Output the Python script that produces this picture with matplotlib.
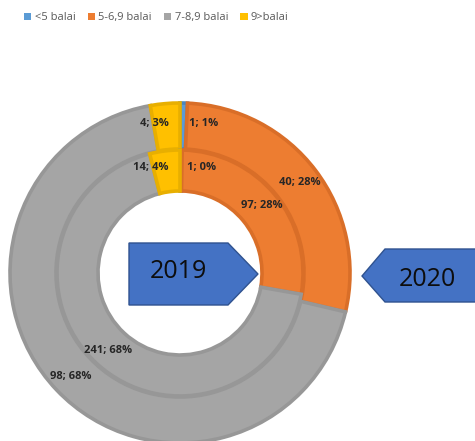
import numpy as np
import matplotlib.pyplot as plt
from matplotlib.patches import Polygon, Patch

plt.rcParams['font.family'] = ['Open Sans', 'DejaVu Sans']

# balai groups and counts per year
categories = ["<5 balai", "5-6,9 balai", "7-8,9 balai", "9>balai"]
counts_2020 = [1, 40, 98, 4]     # outer ring
counts_2019 = [1, 97, 241, 14]   # inner ring
pct_2020 = [1, 28, 68, 3]
pct_2019 = [0, 28, 68, 4]

colors = ["#5B9BD5", "#ED7D31", "#A5A5A5", "#FFC000"]
edges = ["#4A86BE", "#D96E28", "#979797", "#E8AF00"]

W, H = 475, 441
fig = plt.figure(figsize=(W / 100, H / 100), dpi=100)
ax = fig.add_axes([0, 0, 1, 1])

cx, cy = 180, 168
r_out, w_out = 170, 46
r_in, w_in = 123, 41


def ring(vals, radius, width):
    wedges, _ = ax.pie(vals, radius=radius, center=(cx, cy), startangle=90,
                       counterclock=False, colors=colors,
                       wedgeprops=dict(width=width, linewidth=2.6))
    for w, ec in zip(wedges, edges):
        w.set_edgecolor(ec)
    return wedges


def ring_labels(vals, pcts, r_lab):
    total = sum(vals)
    start = 0
    for v, p in zip(vals, pcts):
        frac = (start + v / 2) / total
        theta = np.deg2rad(90 - 360 * frac)
        x = cx + r_lab * np.cos(theta)
        y = cy + r_lab * np.sin(theta)
        ha = 'center'
        if v / total < 0.05:
            if np.cos(theta) > 0:
                ha, x = 'left', x + 6
            else:
                ha, x = 'right', x + 2
        ax.text(x, y, f"{v}; {p}%", ha=ha, va='center', fontsize=8,
                fontweight='bold', color="#262626", zorder=5)
        start += v


ring(counts_2020, r_out, w_out)
ring(counts_2019, r_in, w_in)
ring_labels(counts_2020, pct_2020, 150)
ring_labels(counts_2019, pct_2019, 106)

# year arrows
arrow_2019 = [(129, 198), (228, 198), (258, 167), (228, 136), (129, 136)]
arrow_2020 = [(362, 165), (385, 192), (480, 192), (480, 139), (385, 139)]
for pts in (arrow_2019, arrow_2020):
    ax.add_patch(Polygon(pts, closed=True, facecolor="#4472C4",
                         edgecolor="#2F528F", linewidth=1, zorder=6))
ax.text(178, 169, "2019", ha='center', va='center', fontsize=18,
        color="#0D0D0D", zorder=7)
ax.text(427, 161, "2020", ha='center', va='center', fontsize=18,
        color="#0D0D0D", zorder=7)

handles = [Patch(facecolor=c, edgecolor='none') for c in colors]
fig.legend(handles, categories, loc='upper left', bbox_to_anchor=(0.03, 0.995),
           ncol=4, frameon=False, fontsize=8, handlelength=0.65,
           handleheight=0.65, handletextpad=0.3, columnspacing=1.1,
           labelcolor="#595959")

ax.set_xlim(0, W)
ax.set_ylim(0, H)
ax.set_aspect('auto')
ax.axis('off')

fig.savefig("out.png", dpi=100)
